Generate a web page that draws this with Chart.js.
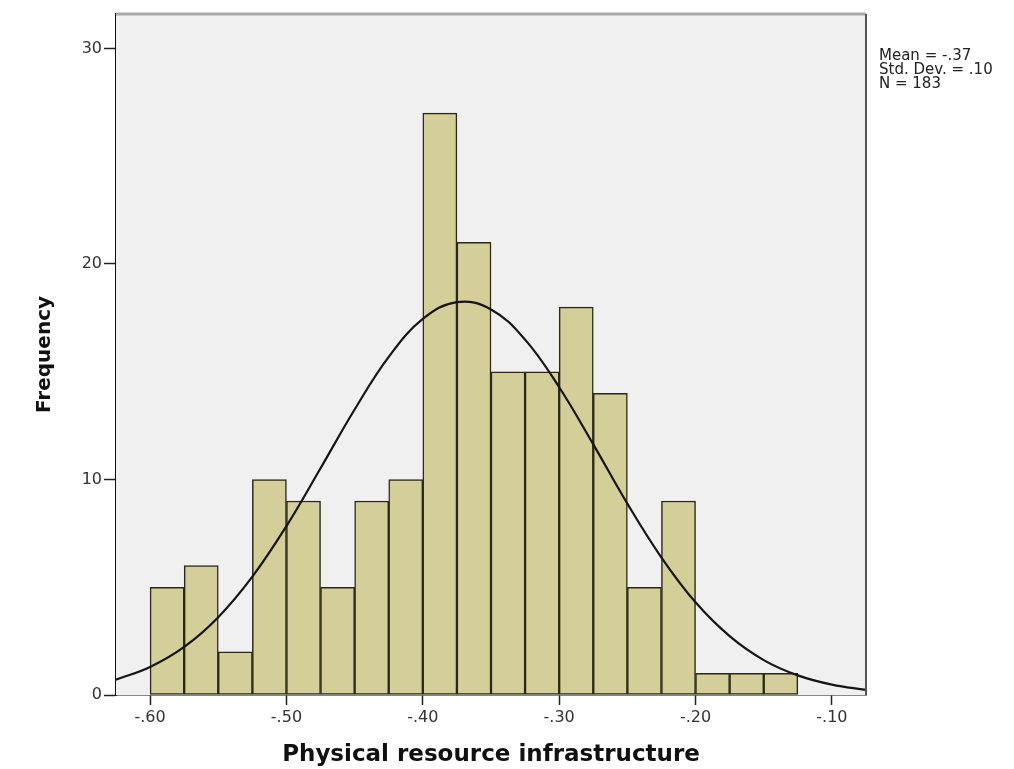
<!DOCTYPE html>
<html>
<head>
<meta charset="utf-8">
<title>Physical resource infrastructure</title>
<script src="https://cdn.jsdelivr.net/npm/chart.js@4.4.1/dist/chart.umd.min.js"></script>
<style>
  html, body { margin: 0; padding: 0; background: #ffffff; }
  canvas { display: block; }
</style>
</head>
<body>
<canvas id="histogram" width="1014" height="769"></canvas>
<script>
// Histogram bins (bin width .025) and counts
const binCenters = [-0.5875, -0.5625, -0.5375, -0.5125, -0.4875, -0.4625, -0.4375, -0.4125, -0.3875, -0.3625,
                    -0.3375, -0.3125, -0.2875, -0.2625, -0.2375, -0.2125, -0.1875, -0.1625, -0.1375];
const frequencies = [5, 6, 2, 10, 9, 5, 9, 10, 27, 21, 15, 15, 18, 14, 5, 9, 1, 1, 1];

// Fitted normal curve, sampled along the x axis
const curveX = [-0.625, -0.600, -0.575, -0.550, -0.525, -0.500, -0.475, -0.450, -0.425, -0.400, -0.375, -0.350,
                -0.325, -0.300, -0.275, -0.250, -0.225, -0.200, -0.175, -0.150, -0.125, -0.100, -0.075];
const curveY = [0.71, 1.30, 2.23, 3.61, 5.49, 7.84, 10.52, 13.25, 15.69, 17.45, 18.23, 17.89,
                16.49, 14.28, 11.63, 8.88, 6.38, 4.30, 2.73, 1.62, 0.91, 0.48, 0.24];

// Axis ticks
const xTickValues = [-0.6, -0.5, -0.4, -0.3, -0.2, -0.1];
const xTickLabels = ['-.60', '-.50', '-.40', '-.30', '-.20', '-.10'];
const yTickValues = [0, 10, 20, 30];
const yTickLabels = ['0', '10', '20', '30'];

// Summary statistics
const statLines = ['Mean = -.37', 'Std. Dev. = .10', 'N = 183'];

const FONT = '"DejaVu Sans", "Liberation Sans", Arial, sans-serif';

// light grey plot background plus the top / right frame lines
const plotFrame = {
  id: 'plotFrame',
  beforeDatasetsDraw(chart) {
    const { ctx, chartArea: a } = chart;
    ctx.save();
    ctx.fillStyle = '#f0f0f0';
    ctx.fillRect(a.left, a.top, a.right - a.left, a.bottom - a.top);
    ctx.restore();
  },
  afterDraw(chart) {
    const { ctx, chartArea: a } = chart;
    ctx.save();
    ctx.strokeStyle = '#a9a9a9';
    ctx.lineWidth = 3;
    ctx.beginPath();
    ctx.moveTo(a.left, a.top);
    ctx.lineTo(a.right, a.top);
    ctx.stroke();
    ctx.strokeStyle = '#555555';
    ctx.lineWidth = 2;
    ctx.beginPath();
    ctx.moveTo(a.right, a.top);
    ctx.lineTo(a.right, a.bottom);
    ctx.stroke();

    // stats box to the right of the plot
    ctx.fillStyle = '#222222';
    ctx.font = '15px ' + FONT;
    ctx.textAlign = 'left';
    ctx.textBaseline = 'alphabetic';
    statLines.forEach((line, i) => {
      ctx.fillText(line, a.right + 13, 60 + i * 14);
    });
    ctx.restore();
  }
};

new Chart(document.getElementById('histogram'), {
  type: 'bar',
  data: {
    datasets: [
      {
        type: 'line',
        label: 'Normal',
        data: curveX.map((x, i) => ({ x: x, y: curveY[i] })),
        borderColor: '#151515',
        borderWidth: 2.2,
        pointRadius: 0,
        fill: false,
        tension: 0.4,
        order: 0
      },
      {
        label: 'Frequency',
        data: binCenters.map((x, i) => ({ x: x, y: frequencies[i] })),
        backgroundColor: '#d4ce99',
        borderColor: '#2a2919',
        borderWidth: 1.5,
        borderSkipped: false,
        barPercentage: 1,
        categoryPercentage: 1,
        order: 1
      }
    ]
  },
  options: {
    responsive: false,
    animation: false,
    layout: { padding: { top: 14, right: 148, left: 0, bottom: 0 } },
    plugins: {
      legend: { display: false },
      tooltip: { enabled: false }
    },
    scales: {
      x: {
        type: 'linear',
        min: -0.625,
        max: -0.075,
        offset: false,
        afterFit(scale) { scale.height = 74; },
        afterBuildTicks(scale) { scale.ticks = xTickValues.map(v => ({ value: v })); },
        ticks: {
          color: '#333333',
          font: { family: FONT, size: 16 },
          padding: 3,
          maxRotation: 0,
          callback: (v) => xTickLabels[xTickValues.findIndex(t => Math.abs(t - v) < 1e-9)]
        },
        grid: { drawOnChartArea: false, drawTicks: true, tickLength: 10, tickWidth: 1.5, tickColor: '#222222', offset: false },
        border: { color: '#111111', width: 1.5 },
        title: {
          display: true,
          text: 'Physical resource infrastructure',
          color: '#111111',
          font: { family: FONT, size: 23, weight: 'bold' },
          padding: { top: 0, bottom: 0 }
        }
      },
      y: {
        min: 0,
        max: 31.6,
        afterFit(scale) { scale.width = 116; },
        afterBuildTicks(scale) { scale.ticks = yTickValues.map(v => ({ value: v })); },
        ticks: {
          color: '#333333',
          font: { family: FONT, size: 16 },
          padding: 2,
          callback: (v) => yTickLabels[yTickValues.indexOf(v)]
        },
        grid: { drawOnChartArea: false, drawTicks: true, tickLength: 12, tickWidth: 1.5, tickColor: '#222222' },
        border: { color: '#111111', width: 1.5 },
        title: {
          display: true,
          text: 'Frequency',
          color: '#111111',
          font: { family: FONT, size: 20, weight: 'bold' },
          padding: { top: 33, bottom: 0 }
        }
      }
    }
  },
  plugins: [plotFrame]
});
</script>
</body>
</html>
